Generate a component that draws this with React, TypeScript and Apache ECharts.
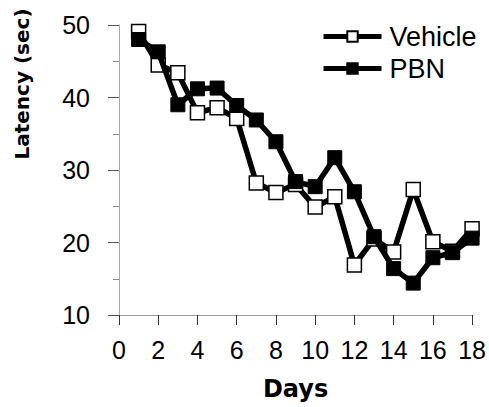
import React, { useEffect, useRef } from "react";
import * as echarts from "echarts";

const days = [1, 2, 3, 4, 5, 6, 7, 8, 9, 10, 11, 12, 13, 14, 15, 16, 17, 18];
const vehicle = [49.1, 44.5, 43.4, 37.9, 38.6, 37.1, 28.2, 26.9, 28.0, 24.9, 26.3, 16.9, 20.5, 18.7, 27.3, 20.1, 18.8, 21.9];
const pbn = [48.0, 46.3, 39.0, 41.2, 41.3, 38.9, 36.9, 33.9, 28.4, 27.7, 31.7, 27.0, 20.8, 16.4, 14.4, 17.9, 18.6, 20.6];
const seriesNames = ["Vehicle", "PBN"];
const xTitle = "Days";
const yTitle = "Latency (sec)";

const tickFont = "'Liberation Sans Narrow', 'Arial Narrow', 'Liberation Sans', Arial, sans-serif";

export default function App() {
  const ref = useRef<HTMLDivElement>(null);
  useEffect(() => {
    if (!ref.current) return;
    const chart = echarts.init(ref.current, undefined, { renderer: "svg" });
    chart.setOption({
      animation: false,
      backgroundColor: "#ffffff",
      grid: { left: 119, right: 12, top: 25, bottom: 92, containLabel: false },
      legend: {
        orient: "vertical",
        left: 316,
        top: 18,
        itemWidth: 58,
        itemHeight: 13,
        itemGap: 5,
        lineStyle: { width: 5, color: "#000" },
        textStyle: {
          fontFamily: "'Liberation Sans', Arial, sans-serif",
          fontSize: 27,
          color: "#000",
          padding: [0, 0, 0, 3],
        },
        data: seriesNames,
      },
      xAxis: {
        type: "value",
        min: 0,
        max: 18,
        interval: 2,
        name: xTitle,
        nameLocation: "middle",
        nameGap: 62,
        nameTextStyle: {
          fontFamily: "'DejaVu Sans', sans-serif",
          fontWeight: "bold",
          fontSize: 24,
          color: "#000",
        },
        axisLine: { show: true, lineStyle: { color: "#999", width: 1 } },
        axisTick: { show: true, inside: false, length: 10, lineStyle: { color: "#333", width: 1 } },
        axisLabel: {
          margin: 22,
          fontFamily: tickFont,
          fontSize: 25,
          color: "#000",
        },
        splitLine: { show: false },
      },
      yAxis: {
        type: "value",
        min: 10,
        max: 50,
        interval: 10,
        axisLine: { show: true, lineStyle: { color: "#aaa", width: 1 } },
        axisTick: { show: true, inside: false, length: 11, lineStyle: { color: "#555", width: 1 } },
        minorTick: { show: true, splitNumber: 2, length: 6, lineStyle: { color: "#888", width: 1 } },
        axisLabel: {
          margin: 29,
          fontFamily: tickFont,
          fontSize: 25,
          color: "#000",
        },
        splitLine: { show: false },
      },
      graphic: [
        {
          type: "text",
          x: 22,
          y: 84,
          rotation: Math.PI / 2,
          style: {
            text: yTitle,
            fontFamily: "'DejaVu Sans', sans-serif",
            fontWeight: "bold",
            fontSize: 20,
            fill: "#000",
            align: "center",
            verticalAlign: "middle",
          },
        },
      ],
      series: [
        {
          name: seriesNames[0],
          type: "line",
          data: days.map((d, i) => [d, vehicle[i]]),
          symbol: "rect",
          symbolSize: 14,
          lineStyle: { color: "#000", width: 5.5 },
          itemStyle: { color: "#fff", borderColor: "#000", borderWidth: 1.5 },
          z: 2,
        },
        {
          name: seriesNames[1],
          type: "line",
          data: days.map((d, i) => [d, pbn[i]]),
          symbol: "rect",
          symbolSize: 14,
          lineStyle: { color: "#000", width: 5.5 },
          itemStyle: { color: "#000", borderColor: "#000", borderWidth: 1 },
          z: 3,
        },
      ],
    });
    return () => chart.dispose();
  }, []);
  return (
    <div
      ref={ref}
      style={{ position: "fixed", left: 0, top: 0, width: 489, height: 407, background: "#fff" }}
    />
  );
}
